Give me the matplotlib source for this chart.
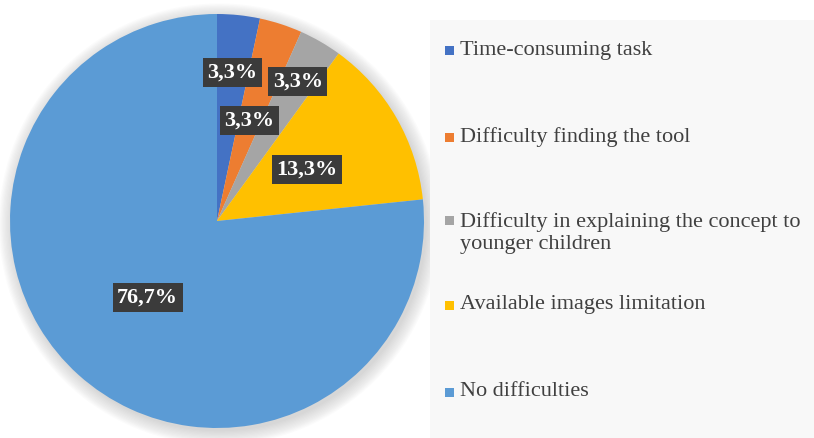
import matplotlib.pyplot as plt
from matplotlib.patches import Circle, Rectangle
import numpy as np

plt.rcParams['font.family'] = ['Liberation Serif', 'DejaVu Serif']

# answers per category (30 respondents)
categories = ["Time-consuming task",
              "Difficulty finding the tool",
              "Difficulty in explaining the concept to\nyounger children",
              "Available images limitation",
              "No difficulties"]
counts = [1, 1, 1, 4, 23]
colors = ["#4472C4", "#ED7D31", "#A5A5A5", "#FFC000", "#5B9BD5"]

# where each data label sits, as a fraction of the radius
label_dist = [0.72, 0.51, 0.78, 0.50, 0.50]

W, H = 814, 438
fig = plt.figure(figsize=(W / 100, H / 100), dpi=100)
fig.patch.set_facecolor("white")

# legend panel
fig.patches.append(Rectangle((430 / W, 0), 1 - 430 / W, 1 - 20 / H,
                             transform=fig.transFigure, fc="#F8F8F8", ec="none", zorder=0))

cx, cy, r = 217, 221, 207
ax = fig.add_axes([(cx - r) / W, (H - cy - r) / H, 2 * r / W, 2 * r / H])
ax.axis("off")

# soft shadow round the pie
for i in range(12):
    ax.add_patch(Circle((0.012, -0.015), 1.0 + 0.006 * i, fc="#9a9a9a", ec="none",
                        alpha=0.035, zorder=0, clip_on=False))

wedges, _ = ax.pie(counts, colors=colors, startangle=90, counterclock=False,
                   radius=1, wedgeprops=dict(linewidth=0))
for w in wedges:
    w.set_zorder(2)
ax.set_xlim(-1, 1)
ax.set_ylim(-1, 1)
ax.set_aspect("equal")

total = sum(counts)
for w, c, d in zip(wedges, counts, label_dist):
    mid = np.deg2rad((w.theta1 + w.theta2) / 2)
    txt = f"{100 * c / total:.1f}%".replace(".", ",")
    ax.text(d * np.cos(mid), d * np.sin(mid), txt, ha="center", va="center",
            color="white", fontsize=16, fontweight="bold", zorder=5,
            bbox=dict(boxstyle="square,pad=0.2", fc="#3b3b3b", ec="none"))

# legend entries (y = centre of the text block, in pixels from the top)
legend_y = [50, 137, 233.5, 305, 392]
for lab, col, y in zip(categories, colors, legend_y):
    n = lab.count("\n")
    my = y - 13.5 * n
    fig.patches.append(Rectangle((445 / W, 1 - (my + 4.5) / H), 9 / W, 9 / H,
                                 transform=fig.transFigure, fc=col, ec="none"))
    fig.text(460 / W, 1 - y / H, lab, ha="left", va="center",
             fontsize=16, color="#404040", linespacing=1.22)

fig.savefig("out.png", dpi=100)
